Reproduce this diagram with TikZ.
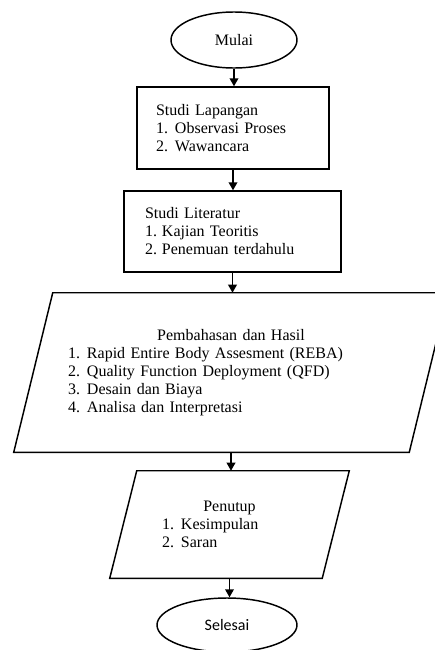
\documentclass[tikz,border=0pt]{standalone}
\usepackage{fontspec}
\setmainfont{Liberation Serif}
\newfontfamily\calibri{Carlito}
\usetikzlibrary{shapes.geometric,arrows.meta}

\newcommand{\nomor}[1]{\makebox[14.25pt][l]{#1}}

\begin{document}
\begin{tikzpicture}[x=0.75pt,y=-0.75pt,
  every node/.style={font=\fontsize{12}{13.5}\selectfont},
  garis/.style={line width=1.1pt},
  ujung/.style={ellipse,draw,line width=1.1pt,inner sep=0pt},
  kotak/.style={rectangle,draw,line width=1.1pt,align=left,inner ysep=0pt},
  isi/.style={rectangle,align=left,inner xsep=0pt,inner ysep=0pt},
  panah/.style={line width=1.1pt,-{Triangle[length=6pt,width=6.5pt]}}]
\useasboundingbox (0,0) rectangle (435,650);
\clip (0,0) rectangle (435,650);
\node[ujung,minimum width=94.5pt,minimum height=42pt] (mulai) at (234,40) {Mulai};
\node[kotak,text width=115.5pt,inner xsep=14.25pt,minimum height=61.5pt] (lapangan) at (233,128)
  {Studi Lapangan\\\nomor{1.}Observasi Proses\\\nomor{2.}Wawancara};
\node[kotak,text width=131.25pt,inner xsep=15.75pt,minimum height=60.75pt] (literatur) at (232.5,231.5)
  {Studi Literatur\\\makebox[12.75pt][l]{1.}Kajian Teoritis\\\makebox[12.75pt][l]{2.}Penemuan terdahulu};
\node[isi,text width=244.5pt,minimum width=325.5pt,minimum height=119.25pt] (bahasan) at (231,372.5)
  {{\centering Pembahasan dan Hasil\par}\noindent
   \nomor{1.}Rapid Entire Body Assesment (REBA)\\
   \nomor{2.}Quality Function Deployment (QFD)\\
   \nomor{3.}Desain dan Biaya\\
   \nomor{4.}Analisa dan Interpretasi};
\draw[garis] ([xshift=29.25pt]bahasan.north west) -- (bahasan.north east)
  -- ([xshift=-29.25pt]bahasan.south east) -- (bahasan.south west) -- cycle;
\node[isi,text width=101.25pt,minimum width=179.25pt,minimum height=80.25pt] (penutup) at (229.5,524.5)
  {{\centering Penutup\par}\noindent
   \nomor{1.}Kesimpulan\\
   \nomor{2.}Saran};
\draw[garis] ([xshift=20.25pt]penutup.north west) -- (penutup.north east)
  -- ([xshift=-20.25pt]penutup.south east) -- (penutup.south west) -- cycle;
\node[ujung,minimum width=105pt,minimum height=40.5pt,font=\calibri\fontsize{12}{13.5}\selectfont] (selesai) at (227,625) {Selesai};
% panah antar langkah
\draw[panah] (mulai.south) -- (mulai.south |- lapangan.north);
\draw[panah] (lapangan.south) -- (lapangan.south |- literatur.north);
\draw[panah] (literatur.south) -- (literatur.south |- bahasan.north);
\draw[panah] (bahasan.south) -- (bahasan.south |- penutup.north);
\draw[panah] (penutup.south) -- (penutup.south |- selesai.north);
\end{tikzpicture}
\end{document}
